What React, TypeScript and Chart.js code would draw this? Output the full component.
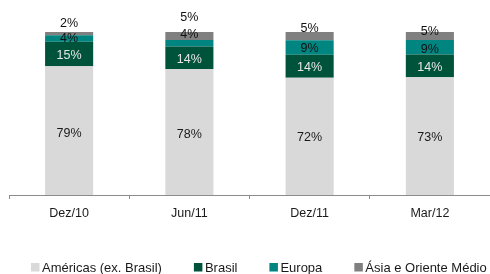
import React, { useEffect, useRef } from 'react';
import { Chart, registerables } from 'chart.js';

Chart.register(...registerables);

const categories = ['Dez/10', 'Jun/11', 'Dez/11', 'Mar/12'];
const seriesNames = ['Américas (ex. Brasil)', 'Brasil', 'Europa', 'Ásia e Oriente Médio'];
const americas = [79, 78, 72, 73];
const brasil = [15, 14, 14, 14];
const europa = [4, 4, 9, 9];
const asia = [2, 5, 5, 5];

const seriesValues = [americas, brasil, europa, asia];
const seriesColors = ['#D9D9D9', '#00533B', '#008580', '#808080'];
const labelColors = ['#1a1a1a', '#e6e6e6', '#111111', '#111111'];
// small vertical nudges of the value labels (styling only)
const labelShifts = [
  [2.5, 2.5, 1.5, 1.5],
  [1.7, 1.5, 1.7, 2],
  [0.3, -9, 0.7, 1.8],
  [-10.3, -18, -8, -4],
];

const FONT = '"Liberation Sans", Arial, sans-serif';

const totals = categories.map((_, i) => seriesValues.reduce((s, arr) => s + arr[i], 0));

const segLabels = {
  id: 'segLabels',
  afterDatasetsDraw(chart: any) {
    const ctx = chart.ctx;
    chart.data.datasets.forEach((ds: any, di: number) => {
      const meta = chart.getDatasetMeta(di);
      meta.data.forEach((el: any, i: number) => {
        const { x, y, base } = el.getProps(['x', 'y', 'base'], true);
        ctx.save();
        ctx.font = `12.5px ${FONT}`;
        ctx.fillStyle = labelColors[di];
        ctx.textAlign = 'center';
        ctx.textBaseline = 'middle';
        ctx.fillText(`${seriesValues[di][i]}%`, x, (y + base) / 2 + labelShifts[di][i]);
        ctx.restore();
      });
    });
  },
};

const customLegend = {
  id: 'customLegend',
  afterDraw(chart: any) {
    const ctx = chart.ctx;
    ctx.save();
    ctx.font = `13px ${FONT}`;
    ctx.textBaseline = 'middle';
    ctx.textAlign = 'left';
    let x = 31;
    const boxY = 263;
    const box = 8.5;
    chart.data.datasets.forEach((ds: any) => {
      ctx.fillStyle = ds.backgroundColor;
      ctx.fillRect(x, boxY, box, box);
      const tx = x + box + 2.5;
      ctx.fillStyle = '#1a1a1a';
      ctx.fillText(ds.label, tx, 268);
      x = tx + ctx.measureText(ds.label).width + 32;
    });
    ctx.restore();
  },
};

export default function App() {
  const ref = useRef<HTMLCanvasElement>(null);

  useEffect(() => {
    if (!ref.current) return;
    const chart = new Chart(ref.current, {
      type: 'bar',
      data: {
        labels: categories,
        datasets: seriesValues.map((vals, di) => ({
          label: seriesNames[di],
          data: vals.map((v, i) => (v / totals[i]) * 100),
          backgroundColor: seriesColors[di],
          borderWidth: 0,
          categoryPercentage: 0.8,
          barPercentage: 0.5,
        })),
      },
      options: {
        responsive: false,
        animation: false,
        layout: { padding: { left: 9, right: 0, top: 32, bottom: 46 } },
        plugins: {
          legend: { display: false },
          tooltip: { enabled: false },
          title: { display: false },
        },
        scales: {
          x: {
            stacked: true,
            grid: {
              display: true,
              drawOnChartArea: false,
              drawTicks: true,
              tickLength: 4,
              color: '#8c8c8c',
              offset: true,
            },
            border: { display: true, color: '#8c8c8c', width: 1 },
            ticks: {
              padding: 7,
              color: '#1a1a1a',
              font: { family: FONT, size: 12.5 },
              maxRotation: 0,
            },
          },
          y: {
            stacked: true,
            display: false,
            min: 0,
            max: 100,
          },
        },
      },
      plugins: [segLabels, customLegend],
    });
    return () => chart.destroy();
  }, []);

  return (
    <div style={{ position: 'fixed', left: 0, top: 0, width: 490, height: 274, background: '#fff' }}>
      <canvas ref={ref} width={490} height={274} style={{ display: 'block' }} />
    </div>
  );
}
